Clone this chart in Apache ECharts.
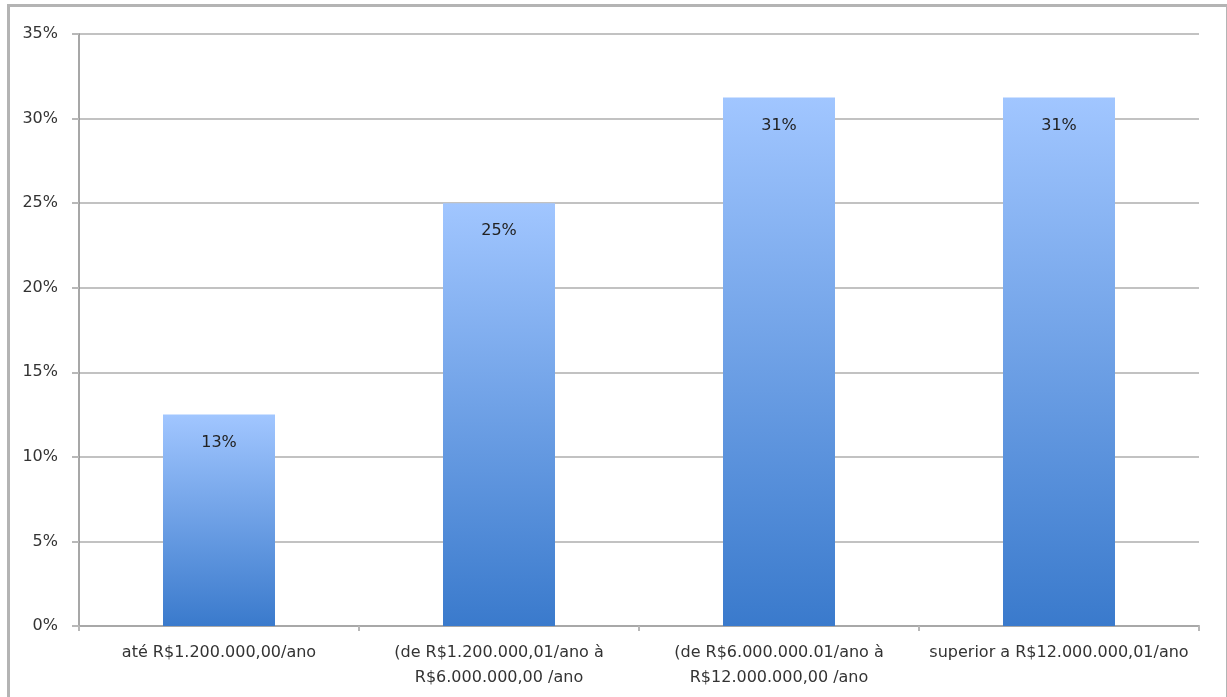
<!DOCTYPE html>
<html>
<head>
<meta charset="utf-8">
<script src="https://cdn.jsdelivr.net/npm/echarts@6/dist/echarts.min.js"></script>
<style>
  html, body { margin: 0; padding: 0; background: #fff; }
  #chart { width: 1227px; height: 697px; }
  #frame {
    position: absolute; left: 7px; top: 4px; width: 1216px; height: 720px;
    border: 3px solid #b4b4b4; pointer-events: none;
  }
</style>
</head>
<body>
<div id="chart"></div>
<div id="frame"></div>
<script>
const categories = [
  "até R$1.200.000,00/ano",
  "(de R$1.200.000,01/ano à\nR$6.000.000,00 /ano",
  "(de R$6.000.000.01/ano à\nR$12.000.000,00 /ano",
  "superior a R$12.000.000,01/ano"
];
const shares = [12.5, 25, 31.25, 31.25];
const yTicks = { min: 0, max: 35, interval: 5 };

const chart = echarts.init(document.getElementById("chart"), null, { renderer: "canvas" });

let options = {
  animation: false,
  textStyle: { fontFamily: "DejaVu Sans" },
  grid: { left: 79, right: 28, top: 34, bottom: 71 },
  xAxis: {
    type: "category",
    data: categories,
    axisLine: { lineStyle: { color: "#a8a8a8", width: 2 } },
    axisTick: { show: true, length: 5, lineStyle: { color: "#b8b8b8", width: 2 } },
    axisLabel: {
      fontSize: 16,
      color: "#333",
      lineHeight: 25,
      margin: 14,
      interval: 0
    }
  },
  yAxis: {
    type: "value",
    min: yTicks.min,
    max: yTicks.max,
    interval: yTicks.interval,
    axisLine: { show: true, lineStyle: { color: "#8a8a8a", width: 1.5 } },
    axisTick: { show: true, length: 7, lineStyle: { color: "#b8b8b8", width: 2 } },
    axisLabel: {
      fontSize: 16,
      color: "#333",
      margin: 21,
      formatter: function (v) { return v + "%"; }
    },
    splitLine: { lineStyle: { color: "#c2c2c2", width: 2 } }
  },
  series: [
    {
      type: "bar",
      data: shares,
      barWidth: "40%",
      itemStyle: {
        color: new echarts.graphic.LinearGradient(0, 0, 0, 1, [
          { offset: 0, color: "#a1c6ff" },
          { offset: 1, color: "#3a7acc" }
        ])
      },
      label: {
        show: true,
        position: "insideTop",
        distance: 20,
        fontSize: 16,
        color: "#222",
        formatter: function (p) { return Math.round(p.value) + "%"; }
      }
    }
  ]
};

chart.setOption(options);
</script>
</body>
</html>
